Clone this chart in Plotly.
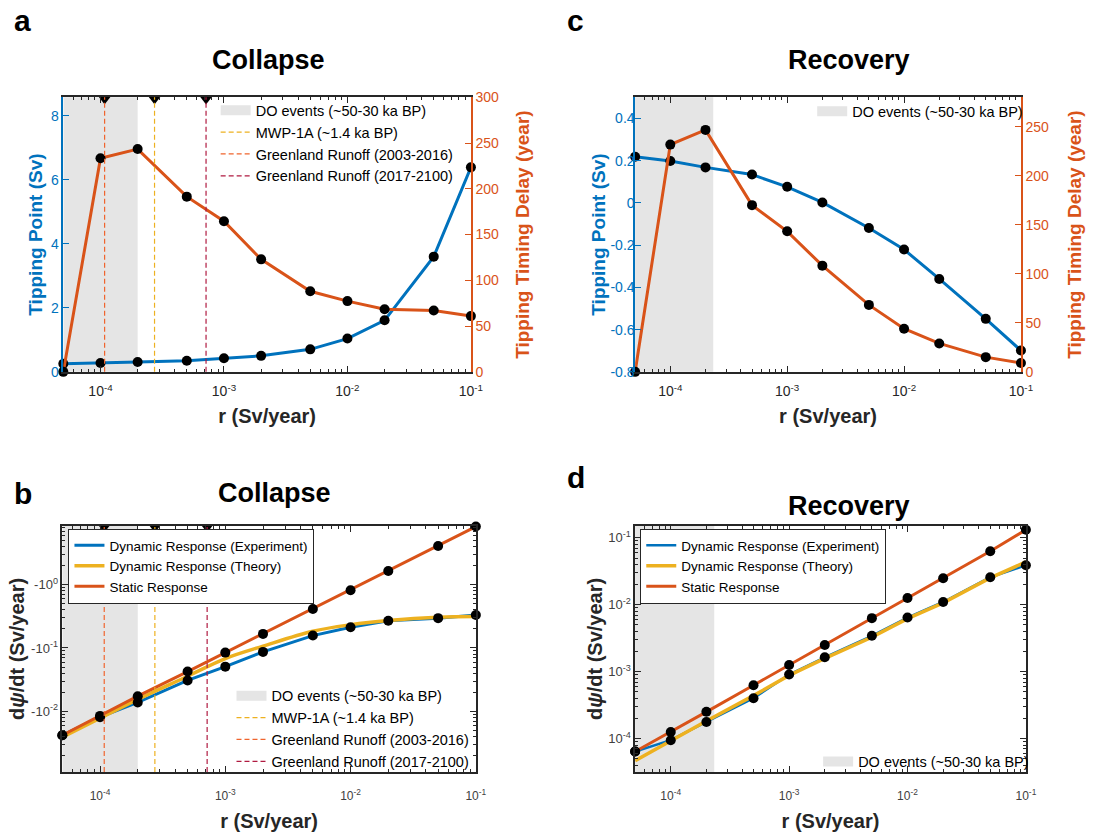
import math
import plotly.graph_objects as go

# ---------------- data ----------------
r = [5e-5, 1e-4, 2e-4, 5e-4, 1e-3, 2e-3, 5e-3, 1e-2, 2e-2, 5e-2, 1e-1]

# panel a (collapse)
a_tipping_point = [0.255, 0.275, 0.306, 0.347, 0.428, 0.50, 0.703, 1.04, 1.61, 3.60, 6.39]
a_delay = [0, 233.4, 243.4, 191.4, 164.6, 122.9, 88.0, 77.3, 68.4, 67.0, 60.9]

# panel c (recovery)
c_tipping_point = [0.218, 0.198, 0.168, 0.134, 0.076, 0.002, -0.119, -0.221, -0.360, -0.549, -0.699]
c_delay = [0, 231.7, 246.7, 170.0, 143.3, 108.3, 68.3, 44.0, 29.0, 15.0, 9.0]

# panel b (collapse, magnitude of negative d psi/dt)
b_experiment = [0.00419, 0.00807, 0.0138, 0.0307, 0.0507, 0.0867, 0.157, 0.212, 0.269, 0.296, 0.333]
b_theory = [0.0039, 0.00778, 0.0154, 0.0358, 0.0682, 0.107, 0.184, 0.233, 0.272, 0.307, 0.314]
b_static = [0.00419, 0.00845, 0.0173, 0.0424, 0.0845, 0.167, 0.414, 0.817, 1.65, 4.08, 8.30]

# panel d (recovery)
d_experiment = [6.4e-5, 9.46e-5, 1.77e-4, 4.01e-4, 9.08e-4, 1.64e-3, 3.44e-3, 6.44e-3, 0.0110, 0.0258, 0.0389]
d_theory = [4.68e-5, 9.33e-5, 1.83e-4, 4.39e-4, 8.79e-4, 1.58e-3, 3.29e-3, 6.22e-3, 0.0107, 0.0252, 0.0437]
d_static = [6.4e-5, 1.25e-4, 2.51e-4, 6.28e-4, 1.26e-3, 2.51e-3, 6.31e-3, 0.0126, 0.0249, 0.0631, 0.132]

# reference periods / rates
do_collapse = [5e-5, 2e-4]
do_recovery = [5e-5, 2.33e-4]
ref_names = ["MWP-1A (~1.4 ka BP)", "Greenland Runoff (2003-2016)", "Greenland Runoff (2017-2100)"]
ref_rates = [2.74e-4, 1.08e-4, 7.16e-4]
do_name = "DO events (~50-30 ka BP)"

x_tickvals = [1e-4, 1e-3, 1e-2, 1e-1]
x_ticktext = ["10<sup>-4</sup>", "10<sup>-3</sup>", "10<sup>-2</sup>", "10<sup>-1</sup>"]
b_tickvals = [1e-2, 1e-1, 1]
b_ticktext = ["-10<sup>-2</sup>", "-10<sup>-1</sup>", "-10<sup>0</sup>"]
d_tickvals = [1e-4, 1e-3, 1e-2, 1e-1]
d_ticktext = ["10<sup>-4</sup>", "10<sup>-3</sup>", "10<sup>-2</sup>", "10<sup>-1</sup>"]

# ---------------- styles ----------------
BLUE = "#0072BD"
ORANGE = "#D95319"
YELLOW = "#EDB120"
GRAY = "#E5E5E5"
REF_COLORS = ["#EDB120", "#F0642D", "#B01A40"]
AX = "#262626"
FONT = "Liberation Sans"
CLEAR = "rgba(255,255,255,0)"

W, H = 1120, 832
def px(x): return x / W
def py(y): return 1 - y / H

minor_log = [m * 10 ** e for e in range(-5, 1) for m in range(2, 10)]

fig = go.Figure()

dom = {
    "a": ([64, 476], [91, 371]),
    "c": ([642, 1032], [91, 371]),
    "b": ([63, 481], [528, 779]),
    "d": ([642, 1037], [528, 779]),
}
def xd(p): return [px(dom[p][0][0]), px(dom[p][0][1])]
def yd(p): return [py(dom[p][1][1]), py(dom[p][1][0])]

EPS = 1e-6
XR = [math.log10(5e-5) - EPS, -1 + EPS]

def xaxis(p, anchor, size, standoff, lab_off):
    return dict(domain=xd(p), anchor=anchor, type="log", range=XR, tickvals=x_tickvals, ticktext=x_ticktext,
                ticks="inside", ticklen=6, tickwidth=1, tickcolor=AX,
                showline=True, linecolor=AX, linewidth=1.5, mirror="ticks",
                showgrid=False, zeroline=False, ticklabelstandoff=lab_off,
                tickfont=dict(size=size, color=AX if size > 13 else "#404040", family=FONT),
                minor=dict(tickmode="array", tickvals=minor_log, ticks="inside", ticklen=3,
                           tickcolor=AX, showgrid=False),
                title=dict(text="<b>r (Sv/year)</b>", font=dict(size=20, color=AX, family=FONT), standoff=standoff))

def legend_patch(legend_name):
    # legend-only entry for the shaded DO period
    fig.add_trace(go.Scatter(x=[None], y=[None], mode="lines", name=do_name,
                             line=dict(color=GRAY, width=10), legend=legend_name, legendrank=1,
                             hoverinfo="skip"))

TRI = dict(symbol="triangle-down", color="black", size=10)

# ---------------- panel a ----------------
A_YR = [0, 8.58]
legend_patch("legend")
fig.add_trace(go.Scatter(x=r, y=a_tipping_point, mode="lines", line=dict(color=BLUE, width=3),
                         xaxis="x", yaxis="y", showlegend=False))
fig.add_trace(go.Scatter(x=r, y=a_delay, mode="lines", line=dict(color=ORANGE, width=3),
                         xaxis="x", yaxis="y2", showlegend=False))
fig.add_trace(go.Scatter(x=r, y=a_tipping_point, mode="markers", marker=dict(color="black", size=10),
                         xaxis="x", yaxis="y", showlegend=False, cliponaxis=False))
fig.add_trace(go.Scatter(x=r, y=a_delay, mode="markers", marker=dict(color="black", size=10),
                         xaxis="x", yaxis="y2", showlegend=False, cliponaxis=False))
a_tri_y = A_YR[1] - 0.07  # just under the top edge
fig.add_trace(go.Scatter(x=ref_rates, y=[a_tri_y] * len(ref_rates), mode="markers", marker=TRI,
                         xaxis="x", yaxis="y", showlegend=False, cliponaxis=False))

# ---------------- panel c ----------------
legend_patch("legend4")
fig.add_trace(go.Scatter(x=r, y=c_tipping_point, mode="lines", line=dict(color=BLUE, width=3),
                         xaxis="x3", yaxis="y4", showlegend=False))
fig.add_trace(go.Scatter(x=r, y=c_delay, mode="lines", line=dict(color=ORANGE, width=3),
                         xaxis="x3", yaxis="y5", showlegend=False))
fig.add_trace(go.Scatter(x=r, y=c_tipping_point, mode="markers", marker=dict(color="black", size=10),
                         xaxis="x3", yaxis="y4", showlegend=False, cliponaxis=False))
fig.add_trace(go.Scatter(x=r, y=c_delay, mode="markers", marker=dict(color="black", size=10),
                         xaxis="x3", yaxis="y5", showlegend=False, cliponaxis=False))

# ---------------- panel b ----------------
legend_patch("legend3")
B_YR = [-2.96, 0.93]
for name, vals, col, w, shape in [("Dynamic Response (Experiment)", b_experiment, BLUE, 3, "linear"),
                                  ("Dynamic Response (Theory)", b_theory, YELLOW, 3.5, "spline"),
                                  ("Static Response", b_static, ORANGE, 3, "linear")]:
    fig.add_trace(go.Scatter(x=r, y=vals, mode="lines", name=name,
                             line=dict(color=col, width=w, shape=shape),
                             xaxis="x2", yaxis="y3", legend="legend2"))
for vals in (b_experiment, b_static):
    fig.add_trace(go.Scatter(x=r, y=vals, mode="markers", marker=dict(color="black", size=10),
                             xaxis="x2", yaxis="y3", showlegend=False, cliponaxis=False))
b_tri_y = 10 ** (B_YR[1] - 0.03)
fig.add_trace(go.Scatter(x=ref_rates, y=[b_tri_y] * len(ref_rates), mode="markers", marker=TRI,
                         xaxis="x2", yaxis="y3", showlegend=False, cliponaxis=False))

# ---------------- panel d ----------------
legend_patch("legend6")
D_YR = [-4.5, -0.82]
for name, vals, col, w in [("Dynamic Response (Experiment)", d_experiment, BLUE, 2.5),
                           ("Dynamic Response (Theory)", d_theory, YELLOW, 3.5),
                           ("Static Response", d_static, ORANGE, 3)]:
    fig.add_trace(go.Scatter(x=r, y=vals, mode="lines", name=name,
                             line=dict(color=col, width=w),
                             xaxis="x4", yaxis="y6", legend="legend5"))
for vals in (d_experiment, d_static):
    fig.add_trace(go.Scatter(x=r, y=vals, mode="markers", marker=dict(color="black", size=10),
                             xaxis="x4", yaxis="y6", showlegend=False, cliponaxis=False))

# ---------------- shapes (shading + reference lines) ----------------
shapes = []
for xref, yref, rng in [("x", "y", do_collapse), ("x2", "y3", do_collapse),
                        ("x3", "y4", do_recovery), ("x4", "y6", do_recovery)]:
    shapes.append(dict(type="rect", xref=xref, yref=yref + " domain", x0=rng[0], x1=rng[1], y0=0, y1=1,
                       fillcolor=GRAY, line=dict(width=0), layer="below"))
for xref, yref, leg in [("x", "y", "legend"), ("x2", "y3", "legend3")]:
    for i, (nm, rate) in enumerate(zip(ref_names, ref_rates)):
        shapes.append(dict(type="line", xref=xref, yref=yref + " domain", x0=rate, x1=rate, y0=0, y1=1,
                           line=dict(color=REF_COLORS[i], width=1.2, dash="5px,3px"), layer="above",
                           showlegend=True, legend=leg, name=nm, legendrank=2 + i))
fig.update_layout(shapes=shapes)

# ---------------- axes ----------------
ytitle_font = dict(size=19, family=FONT)
fig.update_layout(
    xaxis=xaxis("a", "y", 14, 11, 6),
    xaxis3=xaxis("c", "y4", 14, 11, 6),
    xaxis2=xaxis("b", "y3", 12, 12, 12),
    xaxis4=xaxis("d", "y6", 12, 12, 12),
    yaxis=dict(domain=yd("a"), anchor="x", range=A_YR, tickvals=[0, 2, 4, 6, 8],
               ticks="inside", ticklen=6, tickcolor=BLUE, showline=True, linecolor=BLUE, linewidth=1.5,
               showgrid=False, zeroline=False, tickfont=dict(size=14, color=BLUE, family=FONT),
               title=dict(text="<b>Tipping Point (Sv)</b>", font=dict(color=BLUE, **ytitle_font), standoff=3)),
    yaxis2=dict(domain=yd("a"), anchor="x", overlaying="y", side="right", range=[0, 300],
                tickvals=[0, 50, 100, 150, 200, 250, 300],
                ticks="inside", ticklen=6, tickcolor=ORANGE, showline=True, linecolor=ORANGE, linewidth=1.5,
                showgrid=False, zeroline=False, tickfont=dict(size=14, color=ORANGE, family=FONT),
                title=dict(text="<b>Tipping Timing Delay (year)</b>", font=dict(color=ORANGE, **ytitle_font), standoff=18)),
    yaxis4=dict(domain=yd("c"), anchor="x3", range=[-0.8, 0.5], tickvals=[-0.8, -0.6, -0.4, -0.2, 0, 0.2, 0.4],
                ticktext=["-0.8", "-0.6", "-0.4", "-0.2", "0", "0.2", "0.4"],
                ticks="inside", ticklen=6, tickcolor=BLUE, showline=True, linecolor=BLUE, linewidth=1.5,
                showgrid=False, zeroline=False, tickfont=dict(size=14, color=BLUE, family=FONT),
                ticklabelstandoff=-4,
                title=dict(text="<b>Tipping Point (Sv)</b>", font=dict(color=BLUE, **ytitle_font), standoff=0)),
    yaxis5=dict(domain=yd("c"), anchor="x3", overlaying="y4", side="right", range=[0, 280],
                tickvals=[0, 50, 100, 150, 200, 250],
                ticks="inside", ticklen=6, tickcolor=ORANGE, showline=True, linecolor=ORANGE, linewidth=1.5,
                showgrid=False, zeroline=False, tickfont=dict(size=14, color=ORANGE, family=FONT),
                title=dict(text="<b>Tipping Timing Delay (year)</b>", font=dict(color=ORANGE, **ytitle_font), standoff=20)),
    yaxis3=dict(domain=yd("b"), anchor="x2", type="log", range=B_YR, tickvals=b_tickvals, ticktext=b_ticktext,
                ticks="inside", ticklen=6, tickcolor=AX, showline=True, linecolor=AX, linewidth=1.5, mirror="ticks",
                showgrid=False, zeroline=False, tickfont=dict(size=13, color="#404040", family=FONT),
                minor=dict(tickmode="array", tickvals=minor_log, ticks="inside", ticklen=3, tickcolor=AX, showgrid=False),
                title=dict(text="<b>d<i>ψ</i>/dt (Sv/year)</b>", font=dict(color=AX, size=20, family=FONT), standoff=1)),
    yaxis6=dict(domain=yd("d"), anchor="x4", type="log", range=D_YR, tickvals=d_tickvals, ticktext=d_ticktext,
                ticks="inside", ticklen=6, tickcolor=AX, showline=True, linecolor=AX, linewidth=1.5, mirror="ticks",
                showgrid=False, zeroline=False, tickfont=dict(size=13, color="#404040", family=FONT),
                minor=dict(tickmode="array", tickvals=minor_log, ticks="inside", ticklen=3, tickcolor=AX, showgrid=False),
                title=dict(text="<b>d<i>ψ</i>/dt (Sv/year)</b>", font=dict(color=AX, size=20, family=FONT), standoff=0)),
)

# ---------------- legends ----------------
def leg(x, y, size, border=False):
    return dict(x=px(x), y=py(y), xanchor="left", yanchor="top",
                bgcolor="white" if border else CLEAR,
                bordercolor=AX if border else CLEAR, borderwidth=1.2 if border else 0,
                font=dict(size=size, color="black", family=FONT), traceorder="normal")

fig.update_layout(
    legend=leg(218, 88, 14.5),
    legend2=leg(69, 531, 13.5, border=True),
    legend3=leg(234, 685, 14.5),
    legend4=leg(821, 89, 14.5),
    legend5=leg(647, 531, 13.5, border=True),
    legend6=leg(827, 752, 14.5),
)

# ---------------- labels ----------------
ann = []
for t, x, y in [("a", 12, 13), ("c", 571, 13), ("b", 12, 495), ("d", 571, 479)]:
    ann.append(dict(text="<b>" + t + "</b>", x=px(x), y=py(y), xanchor="left", yanchor="middle",
                    xref="paper", yref="paper", showarrow=False,
                    font=dict(size=30, color="black", family=FONT)))
for t, x, y in [("Collapse", 271, 53), ("Recovery", 858, 53), ("Collapse", 277, 495), ("Recovery", 858, 508)]:
    ann.append(dict(text="<b>" + t + "</b>", x=px(x), y=py(y), xanchor="center", yanchor="middle",
                    xref="paper", yref="paper", showarrow=False,
                    font=dict(size=27, color="black", family=FONT)))

fig.update_layout(annotations=ann, width=W, height=H, margin=dict(l=0, r=0, t=0, b=0),
                  plot_bgcolor="white", paper_bgcolor="white", font=dict(family=FONT))

fig.write_html("out.html")
